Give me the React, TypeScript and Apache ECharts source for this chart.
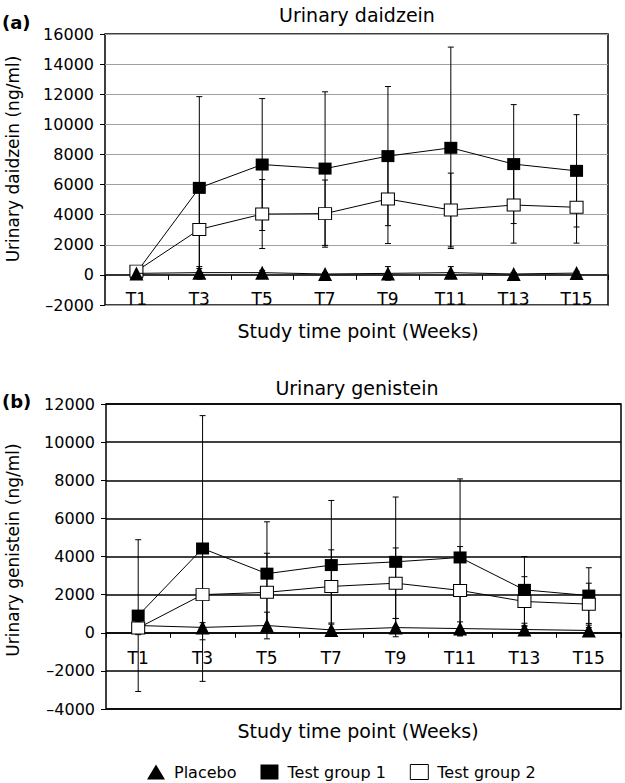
import React, { useEffect, useRef } from "react";
import * as echarts from "echarts";

const categories = ["T1", "T3", "T5", "T7", "T9", "T11", "T13", "T15"];

// Panel (a) urinary daidzein (ng/ml): means and SD
const placeboA = [100, 150, 150, 60, 100, 150, 60, 120];
const placeboSdA = [80, 400, 150, 100, 450, 400, 100, 120];
const test1A = [150, 5780, 7330, 7060, 7890, 8440, 7360, 6910];
const test1SdA = [100, 6060, 4380, 5100, 4620, 6690, 3950, 3730];
const test2A = [250, 3020, 4040, 4070, 5040, 4310, 4640, 4490];
const test2SdA = [150, 2600, 2290, 2230, 2960, 2450, 2530, 2380];

// Panel (b) urinary genistein (ng/ml)
const placeboB = [380, 280, 380, 150, 270, 220, 170, 120];
const placeboSdB = [200, 250, 700, 300, 480, 350, 200, 150];
const test1B = [900, 4420, 3100, 3550, 3720, 3950, 2250, 1950];
const test1SdB = [3980, 6970, 2720, 3390, 3400, 4120, 1750, 1460];
const test2B = [250, 2000, 2120, 2430, 2600, 2220, 1640, 1500];
const test2SdB = [350, 2370, 2050, 1920, 1850, 2300, 1300, 1100];

const yTicksA = { min: -2000, max: 16000, interval: 2000 };
const yTicksB = { min: -4000, max: 12000, interval: 2000 };

const FONT = "DejaVu Sans";

const gridA = { left: 105, top: 34, width: 503, height: 271 };
const gridB = { left: 106, top: 404, width: 515, height: 305 };

// distance (px) from the grid bottom up to the value 0, so the category axis sits on zero
function zeroOffset(g: any, t: any) {
  return (g.height * (0 - t.min)) / (t.max - t.min);
}

function errData(vals: number[], sds: number[]) {
  return vals.map((v, i) => [i, v - sds[i], v + sds[i]]);
}

function errSeries(vals: number[], sds: number[], axis: number) {
  return {
    type: "custom",
    xAxisIndex: axis,
    yAxisIndex: axis,
    z: 2,
    silent: true,
    encode: { x: 0, y: [1, 2] },
    data: errData(vals, sds),
    renderItem: (params: any, api: any) => {
      const lo = api.coord([api.value(0), api.value(1)]);
      const hi = api.coord([api.value(0), api.value(2)]);
      const w = 3;
      const st = { stroke: "#000", lineWidth: 1 };
      return {
        type: "group",
        children: [
          { type: "line", shape: { x1: lo[0], y1: lo[1], x2: hi[0], y2: hi[1] }, style: st },
          { type: "line", shape: { x1: lo[0] - w, y1: lo[1], x2: lo[0] + w, y2: lo[1] }, style: st },
          { type: "line", shape: { x1: hi[0] - w, y1: hi[1], x2: hi[0] + w, y2: hi[1] }, style: st },
        ],
      };
    },
  };
}

function lineSeries(name: string, vals: number[], axis: number, kind: string, z: number) {
  const isTri = kind === "tri";
  const isWhite = kind === "white";
  return {
    name,
    type: "line",
    xAxisIndex: axis,
    yAxisIndex: axis,
    z,
    data: vals,
    symbol: isTri ? "triangle" : "rect",
    symbolSize: isTri ? 14 : [13, 12],
    showAllSymbol: true,
    lineStyle: { color: "#000", width: 1 },
    itemStyle: isWhite
      ? { color: "#fff", borderColor: "#000", borderWidth: 1, opacity: 1 }
      : { color: "#000", borderColor: "#000", borderWidth: 0, opacity: 1 },
    emphasis: { disabled: true },
  };
}

const yFmt = (v: number) => (v < 0 ? "\u2013" + Math.abs(v) : String(v));

function xAxisCfg(grid: number, offset: number, lineColor: string, lineWidth: number, margin: number) {
  return {
    type: "category",
    gridIndex: grid,
    data: categories,
    boundaryGap: true,
    position: "bottom",
    offset: -offset,
    axisLine: { show: true, onZero: false, lineStyle: { color: lineColor, width: lineWidth } },
    axisTick: { show: true, length: 5, alignWithLabel: false, lineStyle: { color: "#000", width: 1 } },
    axisLabel: { fontSize: 17, color: "#000", margin, interval: 0, fontFamily: FONT },
    splitLine: { show: false },
  };
}

function yAxisCfg(grid: number, t: any, splitColor: string, splitWidth: number) {
  return {
    type: "value",
    gridIndex: grid,
    min: t.min,
    max: t.max,
    interval: t.interval,
    axisLine: { show: false },
    axisTick: { show: true, length: 5, lineStyle: { color: "#000", width: 1 } },
    axisLabel: { fontSize: 16, color: "#000", margin: 11, formatter: yFmt, fontFamily: FONT },
    splitLine: { show: true, lineStyle: { color: splitColor, width: splitWidth } },
  };
}

function txt(text: string, x: number, y: number, size: number, opts: any = {}) {
  return {
    type: "text",
    x,
    y,
    rotation: opts.rotation || 0,
    z: 10,
    style: {
      text,
      fill: "#000",
      fontSize: size,
      fontFamily: FONT,
      fontWeight: opts.bold ? "bold" : "normal",
      textAlign: opts.align || "center",
      textVerticalAlign: "middle",
    },
  };
}

export default function App() {
  const ref = useRef<HTMLDivElement>(null);
  useEffect(() => {
    if (!ref.current) return;
    const chart = echarts.init(ref.current, null, { renderer: "svg" });
    const option: any = {
      animation: false,
      backgroundColor: "#fff",
      textStyle: { fontFamily: FONT },
      grid: [
        { ...gridA, show: true, borderColor: "#000", borderWidth: 1.5, backgroundColor: "transparent" },
        { ...gridB, show: true, borderColor: "#000", borderWidth: 1.5, backgroundColor: "transparent" },
      ],
      xAxis: [
        xAxisCfg(0, zeroOffset(gridA, yTicksA), "#333", 2, 16),
        xAxisCfg(1, zeroOffset(gridB, yTicksB), "#000", 1.5, 17),
      ],
      yAxis: [yAxisCfg(0, yTicksA, "#a0a0a0", 1), yAxisCfg(1, yTicksB, "#000", 1.5)],
      legend: {
        left: 147,
        top: 764,
        padding: 0,
        itemWidth: 18,
        itemHeight: 15,
        itemGap: 24,
        selectedMode: false,
        textStyle: { fontSize: 16, color: "#000", fontFamily: FONT, padding: [0, 0, 0, 4] },
        data: [
          { name: "Placebo", icon: "triangle", itemStyle: { color: "#000", borderWidth: 0 } },
          { name: "Test group 1", icon: "rect", itemStyle: { color: "#000", borderWidth: 0 } },
          { name: "Test group 2", icon: "rect", itemStyle: { color: "#fff", borderColor: "#000", borderWidth: 1 } },
        ],
      },
      series: [
        errSeries(test1A, test1SdA, 0),
        errSeries(test2A, test2SdA, 0),
        errSeries(placeboA, placeboSdA, 0),
        lineSeries("Test group 1", test1A, 0, "black", 3),
        lineSeries("Test group 2", test2A, 0, "white", 4),
        lineSeries("Placebo", placeboA, 0, "tri", 5),
        errSeries(test1B, test1SdB, 1),
        errSeries(test2B, test2SdB, 1),
        errSeries(placeboB, placeboSdB, 1),
        lineSeries("Placebo", placeboB, 1, "tri", 3),
        lineSeries("Test group 1", test1B, 1, "black", 4),
        lineSeries("Test group 2", test2B, 1, "white", 5),
      ],
      graphic: [
        txt("(a)", 2, 22, 18, { bold: true, align: "left" }),
        txt("Urinary daidzein", 357, 15, 19),
        txt("Urinary daidzein (ng/ml)", 13, 159, 17, { rotation: Math.PI / 2 }),
        txt("Study time point (Weeks)", 358, 331, 19),
        txt("(b)", 2, 401, 18, { bold: true, align: "left" }),
        txt("Urinary genistein", 357, 388, 19),
        txt("Urinary genistein (ng/ml)", 13, 550, 17, { rotation: Math.PI / 2 }),
        txt("Study time point (Weeks)", 358, 731, 19),
      ],
    };
    chart.setOption(option);
    return () => chart.dispose();
  }, []);
  return (
    <div
      ref={ref}
      style={{ position: "absolute", left: 0, top: 0, width: 625, height: 783, background: "#fff" }}
    />
  );
}
